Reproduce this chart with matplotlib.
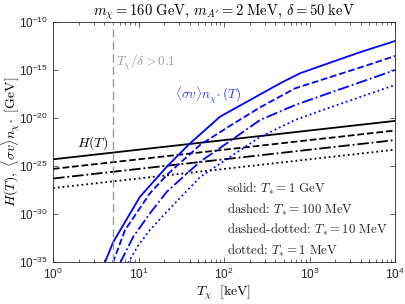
import numpy as np
import matplotlib
matplotlib.use("Agg")
import matplotlib.pyplot as plt

plt.rcParams['mathtext.fontset'] = 'cm'
plt.rcParams['font.family'] = ['Liberation Sans', 'DejaVu Sans']

# Hubble rate lines, log10(H/GeV) at T = 1 keV and 1e4 keV
h_T = [1, 1e4]
h_solid = [-24.3, -20.3]
h_dashed = [-25.3, -21.3]
h_dashdot = [-26.3, -22.3]
h_dotted = [-27.3, -23.3]

# <sigma v> n rates, T in keV and log10 of rate in GeV
sv_solid_T = [4.06, 5.07, 10.4, 21.4, 40.0, 89.8, 201, 452, 774, 1660, 4075, 1e4]
sv_solid = [-35.0, -32.9, -28.2, -25.07, -22.64, -19.86, -18.13, -16.39, -15.34, -14.30, -13.09, -11.98]

sv_dashed_T = [4.99, 6.95, 13.6, 21.4, 52.4, 117.5, 264, 677, 1660, 4075, 1e4]
sv_dashed = [-35.1, -31.67, -27.84, -25.94, -22.81, -20.81, -18.89, -16.91, -15.80, -14.69, -13.54]

sv_dashdot_T = [6.08, 8.69, 13.6, 21.4, 52.4, 127, 264, 677, 1660, 4075, 1e4]
sv_dashdot = [-35.1, -32.36, -29.93, -27.68, -24.55, -22.19, -20.21, -18.65, -17.43, -16.22, -15.0]

sv_dotted_T = [7.54, 9.86, 13.6, 21.4, 52.4, 127, 264, 677, 1660, 4075, 1e4]
sv_dotted = [-35.1, -33.3, -31.67, -29.76, -26.15, -23.85, -21.98, -20.21, -18.96, -17.76, -16.56]

T_cut = 5  # T_chi / delta = 0.1

legend_lines = [r'solid: $T_{*} = 1\ \mathrm{GeV}$',
                r'dashed: $T_{*} = 100\ \mathrm{MeV}$',
                r'dashed-dotted: $T_{*} = 10\ \mathrm{MeV}$',
                r'dotted: $T_{*} = 1\ \mathrm{MeV}$']

fig = plt.figure(figsize=(4.05, 3.04), dpi=100)
ax = fig.add_axes([0.1309, 0.138, 0.8444, 0.7896])

styles = ['-', '--', '-.', ':']
for vals, ls in zip([h_solid, h_dashed, h_dashdot, h_dotted], styles):
    ax.plot(h_T, 10.0 ** np.array(vals), color='black', ls=ls, lw=1.3)

blue = [(sv_solid_T, sv_solid), (sv_dashed_T, sv_dashed),
        (sv_dashdot_T, sv_dashdot), (sv_dotted_T, sv_dotted)]
for (t, v), ls in zip(blue, styles):
    ax.plot(t, 10.0 ** np.array(v), color='#0000ff', ls=ls, lw=1.3)

ax.axvline(T_cut, color='#999999', ls=(0, (6, 3)), lw=1.0)

ax.set_xscale('log')
ax.set_yscale('log')
ax.set_xlim(1, 1e4)
ax.set_ylim(1e-35, 1e-10)
ax.set_yticks([1e-35, 1e-30, 1e-25, 1e-20, 1e-15, 1e-10])
ax.yaxis.set_minor_locator(matplotlib.ticker.NullLocator())
ax.tick_params(which='both', direction='in', top=True, right=True,
               colors='#262626', labelsize=8.5, width=0.5)
ax.tick_params(which='major', length=3.5)
ax.tick_params(which='minor', length=2)
for s in ax.spines.values():
    s.set_color('#262626')
    s.set_linewidth(0.6)

ax.set_title(r'$m_\chi = 160\ \mathrm{GeV},\, m_{A^{\prime}} = 2\ \mathrm{MeV},\, \delta = 50\ \mathrm{keV}$',
             fontsize=10.5, pad=4)
ax.set_xlabel(r'$T_\chi\ \ [\mathrm{keV}]$', fontsize=10, labelpad=1)
ax.set_ylabel(r'$H(T),\ \langle\sigma v\rangle n_{\chi^*}\ [\mathrm{GeV}]$', fontsize=10)
ax.yaxis.set_label_coords(-0.092, 0.5)

ax.text(5.4, 10**-14.2, r'$T_\chi/\delta > 0.1$', color='#999999', fontsize=9.5, va='center')
ax.text(2.86, 10**-22.6, r'$H(T)$', color='black', fontsize=10, ha='center', va='center')
ax.text(65, 10**-17.6, r'$\langle\sigma v\rangle n_{\chi^*}(T)$', color='#3333ff',
        fontsize=9.5, ha='center', va='center')

for i, txt in enumerate(legend_lines):
    ax.text(0.508, 0.303 - i * 0.085, txt, transform=ax.transAxes, fontsize=9.3,
            family='cmr10', color='#262626', va='center', ha='left')

fig.savefig('out.png', dpi=100)
